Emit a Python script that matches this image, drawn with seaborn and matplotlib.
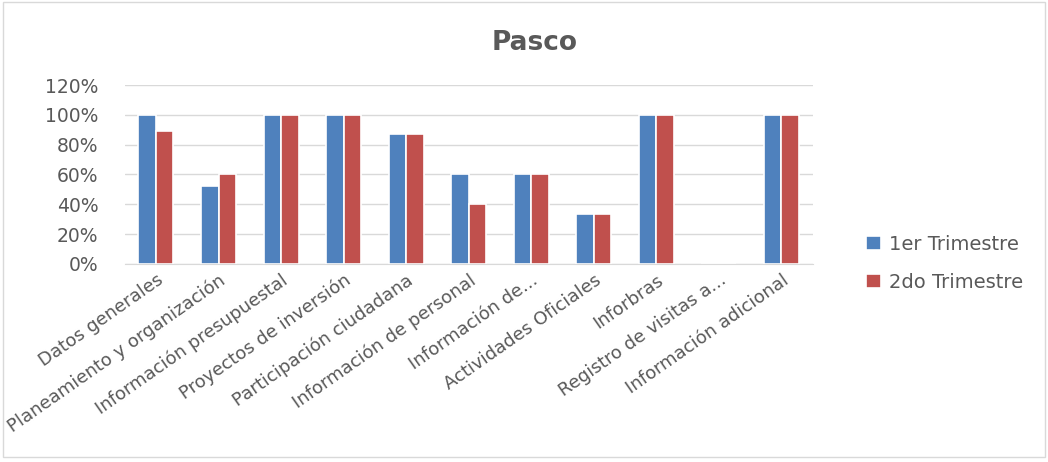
import pandas as pd
import seaborn as sns
import matplotlib.pyplot as plt
from matplotlib.ticker import PercentFormatter
from matplotlib.patches import Rectangle

# Data
categorias = ["Datos generales", "Planeamiento y organización", "Información presupuestal",
              "Proyectos de inversión", "Participación ciudadana", "Información de personal",
              "Información de...", "Actividades Oficiales", "Inforbras",
              "Registro de visitas a...", "Información adicional"]
trim1 = [1.00, 0.525, 1.00, 1.00, 0.87, 0.60, 0.60, 0.333, 1.00, 0.0, 1.00]
trim2 = [0.89, 0.605, 1.00, 1.00, 0.87, 0.40, 0.60, 0.333, 1.00, 0.0, 1.00]
series = ["1er Trimestre", "2do Trimestre"]

df = pd.DataFrame({"categoria": categorias * 2,
                   "valor": trim1 + trim2,
                   "serie": [series[0]] * len(categorias) + [series[1]] * len(categorias)})

sns.set_style("white")
plt.rcParams["font.family"] = ["DejaVu Sans"]
gris = "#595959"

fig = plt.figure(figsize=(10.48, 4.62), dpi=100)
ax = fig.add_axes([0.119, 0.4286, 0.6565, 0.3874])

sns.barplot(data=df, x="categoria", y="valor", hue="serie",
            palette=["#4F81BD", "#C0504D"], saturation=1, width=0.56,
            edgecolor="white", linewidth=1.2, ax=ax, legend=True)

ax.set_ylim(0, 1.2)
ax.set_yticks([0, 0.2, 0.4, 0.6, 0.8, 1.0, 1.2])
ax.yaxis.set_major_formatter(PercentFormatter(1.0, decimals=0))
ax.grid(axis="y", color="#D9D9D9", linewidth=1)
ax.set_axisbelow(True)
for s in ["top", "right", "left"]:
    ax.spines[s].set_visible(False)
ax.spines["bottom"].set_color("#D9D9D9")
ax.set_xlabel("")
ax.set_ylabel("")
ax.tick_params(axis="both", length=0, colors=gris)
ax.tick_params(axis="y", pad=19, labelsize=13.5)
ax.tick_params(axis="x", pad=5, labelsize=13)
plt.setp(ax.get_xticklabels(), rotation=35, ha="right", rotation_mode="anchor")

handles, labels = ax.get_legend_handles_labels()
ax.get_legend().remove()
fig.legend(handles, labels, loc="center left", bbox_to_anchor=(0.81, 0.43),
           frameon=False, fontsize=14, labelcolor=gris, handlelength=0.75,
           handleheight=0.75, handletextpad=0.4, labelspacing=1.0)

fig.suptitle("Pasco", x=0.51, y=0.935, fontsize=19, fontweight="bold", color=gris)

fig.patches.append(Rectangle((0.003, 0.01), 0.994, 0.985, transform=fig.transFigure,
                             fill=False, edgecolor="#D9D9D9", linewidth=1))

fig.savefig("out.png", dpi=100)
